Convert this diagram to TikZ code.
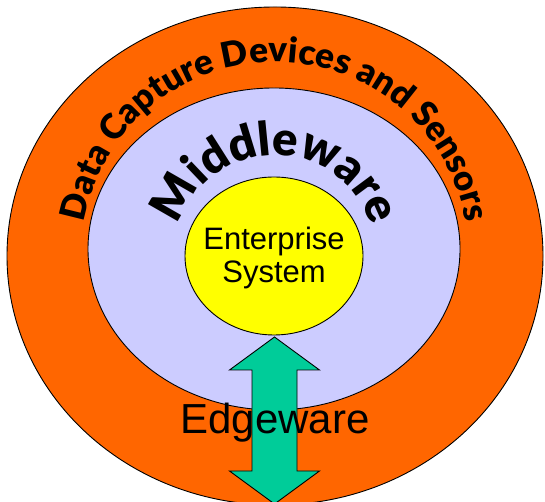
\documentclass[tikz,border=0pt]{standalone}
\usepackage{fontspec}
\setmainfont{Liberation Sans}
\newfontfamily\blackfont{Lato Black}
\usetikzlibrary{shapes.geometric,decorations.text}
\definecolor{ringorange}{HTML}{FF6600}
\definecolor{midlav}{HTML}{CCCCFF}
\definecolor{entyellow}{HTML}{FFFF00}
\definecolor{arrowgreen}{HTML}{00CC99}
\tikzset{
  layer/.style={ellipse, draw=black, line width=0.9pt, inner sep=0pt},
  plaintext/.style={inner sep=0pt, anchor=base},
}
\begin{document}
\begin{tikzpicture}[x=1pt,y=1pt]
\useasboundingbox (0,0) rectangle (545,502);
\node[layer, fill=ringorange, minimum width=536, minimum height=498] (outer) at (275,246) {};
\node[layer, fill=midlav, minimum width=372, minimum height=322] (middle) at (274,253) {};
\node[layer, fill=entyellow, minimum width=178, minimum height=158] (core) at (274,246) {};
% double block arrow
\coordinate (tiptop) at (274.5,165);
\coordinate (tipbot) at (274.5,-2);
\draw[fill=arrowgreen, line width=0.9pt, line join=miter]
  (tiptop) -- (319.5,132) -- (297,132) -- (297,31) -- (319.5,31) -- (tipbot)
  -- (229.5,31) -- (252,31) -- (252,132) -- (229.5,132) -- cycle;
% texts
\node[plaintext, font=\fontsize{31}{31}\selectfont] (ent) at (274,252) {Enterprise};
\node[plaintext, font=\fontsize{31}{31}\selectfont] (sys) at (274,219) {System};
\node[plaintext, font=\fontsize{42}{42}\selectfont] (edge) at (275,68) {Edgeware};
\path[decorate, decoration={text along path, text align=center,
  text={|\blackfont\fontsize{35}{35}\selectfont|Data Capture Devices and Sensors}}]
  (275,246) ++(178:194) arc[start angle=178, end angle=2, radius=194];
\path[decorate, decoration={text along path, text align=center,
  text={|\blackfont\fontsize{47}{47}\selectfont|Middleware}}]
  (275,247) ++(172:100) arc[start angle=172, end angle=8, radius=100];
\end{tikzpicture}
\end{document}
